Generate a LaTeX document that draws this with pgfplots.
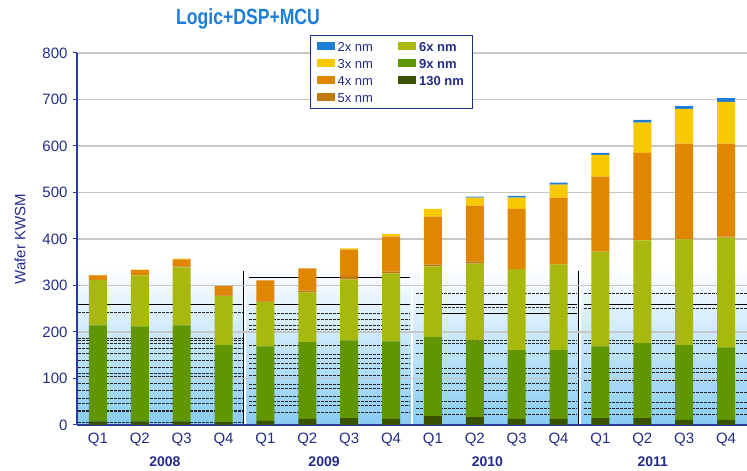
\documentclass[border=0pt]{standalone}
\usepackage{fontspec}
\setmainfont{Liberation Sans}
\usepackage{graphicx}
\usepackage{pgfplots}
\usepackage{pgfplotstable}
\pgfplotsset{compat=1.18}
\definecolor{nmtwo}{RGB}{30,125,214}
\definecolor{nmthree}{RGB}{248,200,0}
\definecolor{nmfour}{RGB}{224,134,0}
\definecolor{nmfive}{RGB}{192,122,16}
\definecolor{nmsix}{RGB}{168,184,12}
\definecolor{nmnine}{RGB}{98,150,0}
\definecolor{nmhundred}{RGB}{58,82,0}
\definecolor{navy}{RGB}{35,45,135}
\definecolor{axblue}{RGB}{40,60,160}
\definecolor{bgblue}{RGB}{136,204,244}
\definecolor{titleblue}{RGB}{30,125,214}

\pgfplotstableread{
x n130 n9 n6 n5 n4 n3 n2
0 8 206 98 0 10 1 0
1 8 204 110 0 11 1 0
2 8 206 125 2 15 2 0
3 6 166 105 2 20 0 0
4 9 160 95 2 45 0 0
5 13 165 107 4 48 0 0
6 15 167 131 7 57 3 0
7 13 167 146 4 75 6 0
8 19 170 152 4 103 17 0
9 17 165 165 5 120 17 2
10 13 148 174 0 130 24 4
11 13 148 184 0 144 28 4
12 15 154 204 0 161 47 4
13 15 161 221 0 188 65 6
14 11 161 227 1 205 75 6
15 11 156 236 2 200 90 8
}\datatable

\pgfplotsset{leg/.style={legend image code/.code={\fill[#1] (0pt,-3.5pt) rectangle (17pt,3.5pt);}}}
\tikzset{dl/.style={black!85, line width=0.8pt, dash pattern=on 3pt off 1pt}}

\begin{document}
\begin{tikzpicture}
\path[use as bounding box] (-77pt,-46pt) rectangle (670pt,425pt);
% background axis
\begin{axis}[
  hide axis, clip=false,
  scale only axis, width=670pt, height=372pt,
  xmin=-0.5, xmax=15.5, ymin=0, ymax=800,
]
\fill[bottom color=bgblue, top color=white] (axis cs:-0.5,0) rectangle (axis cs:15.5,340);
\pgfplotsinvokeforeach{242,187,182,176,165,154,138,123,112,104,90,75,58,47,32,29,5}{
  \draw[dl] (axis cs:-0.48,#1) -- (axis cs:3.45,#1);}
\draw[black, line width=1pt] (axis cs:-0.48,259) -- (axis cs:3.45,259);
\pgfplotsinvokeforeach{240,227,214,206,201,172,152,144,133,122,107,88,79,62,50,43,28}{
  \draw[dl] (axis cs:3.6,#1) -- (axis cs:7.45,#1);}
\draw[black, line width=1pt] (axis cs:3.6,317) -- (axis cs:7.45,317);
\draw[black, line width=1pt] (axis cs:3.6,259) -- (axis cs:7.45,259);
\pgfplotsinvokeforeach{283,253,182,176,154,122,112,90,75,50,36,22}{
  \draw[dl] (axis cs:7.6,#1) -- (axis cs:11.45,#1);}
\draw[black, line width=1pt] (axis cs:7.6,260) -- (axis cs:11.45,260);
\draw[black, line width=1pt] (axis cs:7.6,240) -- (axis cs:11.45,240);
\pgfplotsinvokeforeach{283,250,182,176,154,122,114,96,71,49,36,22}{
  \draw[dl] (axis cs:11.6,#1) -- (axis cs:15.5,#1);}
\draw[black, line width=1pt] (axis cs:11.6,259) -- (axis cs:15.5,259);
\draw[white, line width=2.5pt] (axis cs:3.5,0) -- (axis cs:3.5,340);
\draw[white, line width=2.5pt] (axis cs:7.5,0) -- (axis cs:7.5,340);
\draw[white, line width=2.5pt] (axis cs:11.5,0) -- (axis cs:11.5,340);
\draw[black, line width=1pt] (axis cs:3.48,0) -- (axis cs:3.48,332);
\draw[black, line width=1pt] (axis cs:11.48,0) -- (axis cs:11.48,332);
\pgfplotsinvokeforeach{100,200,300,400,500,600,700,800}{
  \draw[black!22, line width=1.3pt] (axis cs:-0.5,#1) -- (axis cs:15.5,#1);}
\end{axis}
% bars axis
\begin{axis}[
  clip=false,
  scale only axis, width=670pt, height=372pt,
  xmin=-0.5, xmax=15.5, ymin=0, ymax=800,
  ybar stacked, bar width=0.43,
  axis x line*=bottom, axis y line*=left,
  axis line style={axblue, line width=1.6pt},
  xtick={0,...,15},
  xticklabels={Q1,Q2,Q3,Q4,Q1,Q2,Q3,Q4,Q1,Q2,Q3,Q4,Q1,Q2,Q3,Q4},
  xtick style={draw=none},
  ytick={0,100,...,800},
  ytick style={axblue, line width=1pt}, tick align=outside, major tick length=4pt,
  tick label style={font=\fontsize{15}{18}\selectfont, text=navy},
  yticklabel style={xshift=-2pt},
  /pgf/number format/assume math mode=true,
  legend columns=2,
  legend cell align=left,
  legend style={at={(0.348,1.048)}, anchor=north west, draw=navy, line width=1pt,
    fill=white, font=\fontsize{13}{15}\selectfont, text=navy,
    nodes={text height=9.4pt, text depth=0pt, inner ysep=2pt, inner xsep=3pt},
    row sep=3.6pt,
    /tikz/every even column/.append style={column sep=22pt},
    inner xsep=6pt, inner ysep=4pt},
]
\addplot[fill=nmhundred, draw=none, forget plot] table[x=x, y=n130] {\datatable};
\addplot[fill=nmnine, draw=none, forget plot] table[x=x, y=n9] {\datatable};
\addplot[fill=nmsix, draw=none, forget plot] table[x=x, y=n6] {\datatable};
\addplot[fill=nmfive, draw=none, forget plot] table[x=x, y=n5] {\datatable};
\addplot[fill=nmfour, draw=none, forget plot] table[x=x, y=n4] {\datatable};
\addplot[fill=nmthree, draw=none, forget plot] table[x=x, y=n3] {\datatable};
\addplot[fill=nmtwo, draw=none, forget plot] table[x=x, y=n2] {\datatable};

\addlegendimage{leg=nmtwo}\addlegendentry{2x nm}
\addlegendimage{leg=nmsix}\addlegendentry{\textbf{6x nm}}
\addlegendimage{leg=nmthree}\addlegendentry{3x nm}
\addlegendimage{leg=nmnine}\addlegendentry{\textbf{9x nm}}
\addlegendimage{leg=nmfour}\addlegendentry{4x nm}
\addlegendimage{leg=nmhundred}\addlegendentry{\textbf{130 nm}}
\addlegendimage{leg=nmfive}\addlegendentry{5x nm}

\node[font=\bfseries\fontsize{14}{16}\selectfont, text=navy] at (axis cs:1.6,0) [yshift=-37pt] {2008};
\node[font=\bfseries\fontsize{14}{16}\selectfont, text=navy] at (axis cs:5.4,0) [yshift=-37pt] {2009};
\node[font=\bfseries\fontsize{14}{16}\selectfont, text=navy] at (axis cs:9.3,0) [yshift=-37pt] {2010};
\node[font=\bfseries\fontsize{14}{16}\selectfont, text=navy] at (axis cs:13.25,0) [yshift=-37pt] {2011};
\end{axis}
\node[rotate=90, text=navy, font=\fontsize{15}{18}\selectfont] at (-57pt,186pt) {Wafer KWSM};
\node[anchor=base, text=titleblue] at (171pt,400pt) {\scalebox{0.8}[1]{\bfseries\fontsize{22}{25}\selectfont Logic+DSP+MCU}};
\end{tikzpicture}
\end{document}
